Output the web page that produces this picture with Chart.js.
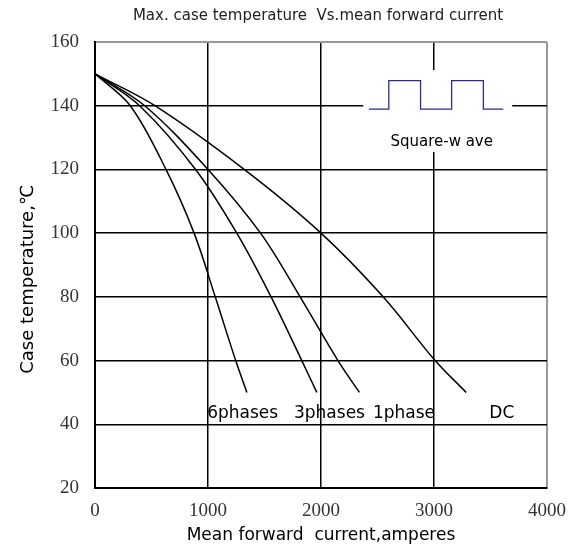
<!DOCTYPE html>
<html>
<head>
<meta charset="utf-8">
<script src="https://cdn.jsdelivr.net/npm/chart.js@4.4.1/dist/chart.umd.min.js"></script>
<style>
    body { margin: 0; background: #fff; }
    #wrap { width: 578px; height: 548px; }
</style>
</head>
<body>
<div id="wrap"><canvas id="chart_canvas"></canvas></div>
<script>
    // values (current in amperes, case temperature in C)
    var dc_current     = [0, 530, 1320, 2000, 2550, 3010, 3285];
    var dc_temp        = [150, 140, 120, 100, 80, 60, 50];
    var phase1_current = [0, 440, 1000, 1465, 1815, 2150, 2340];
    var phase1_temp    = [150, 140, 120, 100, 80, 60, 50];
    var phase3_current = [0, 395, 890, 1255, 1558, 1830, 1963];
    var phase3_temp    = [150, 140, 120, 100, 80, 60, 50];
    var phase6_current = [0, 312, 628, 877, 1064, 1245, 1344];
    var phase6_temp    = [150, 140, 120, 100, 80, 60, 50];

    // square-wave inset
    var wave_x = [2424, 2600, 2600, 2881, 2881, 3156, 3156, 3437, 3437, 3613];
    var wave_y = [138.9, 138.9, 147.9, 147.9, 138.9, 138.9, 147.9, 147.9, 138.9, 138.9];

    var curve_labels = ["6phases", "3phases", "1phase", "DC"];
    var curve_label_x = [1307, 2075, 2734, 3600];
    var curve_label_y = [43.5, 43.5, 43.5, 43.5];

    var x_ticks = [0, 1000, 2000, 3000, 4000];
    var y_ticks = [20, 40, 60, 80, 100, 120, 140, 160];

    var chart_title = "Max. case temperature  Vs.mean forward current";

    function toPoints(xs, ys) {
        var pts = [];
        for (var i = 0; i < xs.length; i++) {
            pts.push({ x: xs[i], y: ys[i] });
        }
        return pts;
    }

    function curve(label, xs, ys) {
        return {
            label: label,
            data: toPoints(xs, ys),
            borderColor: "#000",
            borderWidth: 1.5,
            pointRadius: 0,
            tension: 0.35,
            fill: false
        };
    }

    // white patch behind the inset, then the texts
    var insetPlugin = {
        id: "inset",
        beforeDatasetsDraw: function (chart) {
            var ctx = chart.ctx;
            var xs = chart.scales.x, ys = chart.scales.y;
            var l = xs.getPixelForValue(2374), r = xs.getPixelForValue(3692);
            var t = ys.getPixelForValue(151.2), b = ys.getPixelForValue(125.5);
            ctx.save();
            ctx.fillStyle = "#fff";
            ctx.fillRect(l, t, r - l, b - t);
            ctx.restore();
        },
        afterDatasetsDraw: function (chart) {
            var ctx = chart.ctx;
            var xs = chart.scales.x, ys = chart.scales.y;
            var area = chart.chartArea;
            ctx.save();
            ctx.fillStyle = "#000";
            ctx.textAlign = "center";
            ctx.textBaseline = "middle";
            ctx.font = "17px 'DejaVu Sans'";
            for (var i = 0; i < curve_labels.length; i++) {
                ctx.fillText(curve_labels[i], xs.getPixelForValue(curve_label_x[i]), ys.getPixelForValue(curve_label_y[i]));
            }
            ctx.font = "15px 'DejaVu Sans'";
            ctx.fillText("Square-w ave", xs.getPixelForValue(3068), ys.getPixelForValue(128.6));

            ctx.fillStyle = "#222";
            ctx.font = "15px 'DejaVu Sans'";
            ctx.fillText(chart_title, (area.left + area.right) / 2 - 3, 16);
            ctx.restore();
        }
    };

    function plainTick(value) {
        return String(value);
    }

    var cxt = document.getElementById("chart_canvas").getContext("2d");
    var chart = new Chart(cxt, {
        type: "line",
        data: {
            datasets: [
                curve("DC", dc_current, dc_temp),
                curve("1phase", phase1_current, phase1_temp),
                curve("3phases", phase3_current, phase3_temp),
                curve("6phases", phase6_current, phase6_temp),
                {
                    label: "Square-wave",
                    data: toPoints(wave_x, wave_y),
                    borderColor: "#2b2b92",
                    borderWidth: 1.3,
                    pointRadius: 0,
                    tension: 0,
                    fill: false
                }
            ]
        },
        options: {
            responsive: true,
            maintainAspectRatio: false,
            animation: false,
            layout: { padding: { left: 0, right: 27, top: 42, bottom: 0 } },
            plugins: {
                legend: { display: false },
                tooltip: { enabled: false },
                title: { display: false }
            },
            scales: {
                x: {
                    type: "linear",
                    min: 0,
                    max: 4000,
                    afterBuildTicks: function (scale) {
                        scale.ticks = x_ticks.map(function (v) { return { value: v }; });
                    },
                    afterFit: function (scale) { scale.height = 60; },
                    grid: {
                        drawTicks: false,
                        color: function (c) { return c.tick && c.tick.value === 4000 ? "#999" : "#000"; },
                        lineWidth: function (c) { return c.tick && c.tick.value === 4000 ? 2 : 1.5; }
                    },
                    border: { display: true, color: "#000", width: 2 },
                    ticks: {
                        padding: 12,
                        color: "#333",
                        maxRotation: 0,
                        callback: plainTick,
                        font: { family: "'Liberation Serif'", size: 19 }
                    },
                    title: {
                        display: true,
                        text: "Mean forward  current,amperes",
                        color: "#000",
                        font: { family: "'DejaVu Sans'", size: 17 },
                        padding: { top: 0, bottom: 2 }
                    }
                },
                y: {
                    type: "linear",
                    min: 20,
                    max: 160,
                    afterBuildTicks: function (scale) {
                        scale.ticks = y_ticks.map(function (v) { return { value: v }; });
                    },
                    afterFit: function (scale) { scale.width = 95; },
                    grid: {
                        drawTicks: false,
                        color: function (c) { return c.tick && c.tick.value === 160 ? "#999" : "#000"; },
                        lineWidth: function (c) { return c.tick && c.tick.value === 160 ? 2 : 1.5; }
                    },
                    border: { display: true, color: "#000", width: 2 },
                    ticks: {
                        padding: 16,
                        color: "#333",
                        callback: plainTick,
                        font: { family: "'Liberation Serif'", size: 19 }
                    },
                    title: {
                        display: true,
                        // trailing spaces push the visible text a little lower, as in the picture
                        text: "Case temperature,\u2103     ",
                        color: "#000",
                        font: { family: "'DejaVu Sans'", size: 18 },
                        padding: { top: 18, bottom: 0 }
                    }
                }
            }
        },
        plugins: [insetPlugin]
    });
</script>
</body>
</html>
